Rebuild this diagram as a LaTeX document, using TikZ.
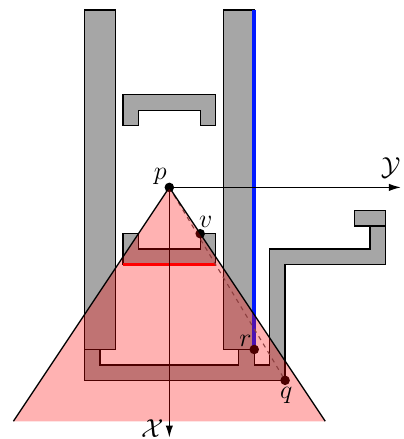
\documentclass[tikz,border=0pt]{standalone}
\usepackage{tikz}
\usetikzlibrary{arrows.meta,positioning}
\usepackage{amsmath}
\usepackage{xcolor}
\tikzset{
  wall/.style={draw=black, fill=black!35, line width=0.6pt},
  cone/.style={fill=red, fill opacity=0.3, draw=none},
  coneedge/.style={draw=black, line width=0.6pt},
  bluewall/.style={draw=blue!90!cyan, line width=1.7pt},
  redwall/.style={draw=red, line width=1.5pt},
  ray/.style={draw=black!65, line width=0.5pt, dash pattern=on 2pt off 2pt},
  axis/.style={-{Latex[length=5.5pt,width=3.4pt]}, line width=0.6pt},
  pt/.style={fill=black},
  lab/.style={inner sep=1pt, font=\large}
}
\begin{document}
\begin{tikzpicture}[x=0.25cm, y=0.25cm]
\useasboundingbox (-10.97,12.14) rectangle (15.15,-16.3);
\coordinate (p) at (0,0);
\coordinate (v) at (2,-3);
\coordinate (r) at (5.5,-10.5);
\coordinate (q) at (7.5,-12.5);
\coordinate (yend) at (15,0);
\coordinate (xend) at (0,-16.2);
% obstacles
\draw[wall] (-5.5,11.5) rectangle (-3.5,-10.5);
\draw[wall] (3.5,11.5) rectangle (5.5,-10.5);
\draw[wall] (-3,6) -- (3,6) -- (3,4) -- (2,4) -- (2,5) -- (-2,5) -- (-2,4) -- (-3,4) -- cycle;
\draw[wall] (-3,-3) -- (-2,-3) -- (-2,-4) -- (2,-4) -- (2,-3) -- (3,-3) -- (3,-5) -- (-3,-5) -- cycle;
\draw[wall] (-5.5,-10.5) -- (-5.5,-12.5) -- (7.5,-12.5) -- (7.5,-5) -- (14,-5) -- (14,-2.5)
  -- (13,-2.5) -- (13,-4) -- (6.5,-4) -- (6.5,-11.5) -- (5.5,-11.5) -- (5.5,-10.5)
  -- (4.5,-10.5) -- (4.5,-11.5) -- (-4.5,-11.5) -- (-4.5,-10.5) -- cycle;
\draw[wall] (12,-1.5) rectangle (14,-2.5);
\draw[bluewall] (5.5,11.5) -- (r);
\draw[redwall] (-3,-5) -- (3,-5);
% rays and axes
\draw[ray] (p) -- (q);
\draw[axis] (p) -- (yend);
\draw[axis] (p) -- (xend);
\foreach \n in {p,v,r,q} {\fill[pt] (\n) circle[radius=2.2pt];}
% visibility cone
\fill[cone] (p) -- (-10.1,-15.15) -- (10.1,-15.15) -- cycle;
\draw[coneedge] (-10.1,-15.15) -- (p) -- (10.1,-15.15);
% labels
\node[lab, anchor=south east] (plab) at (p) {$p$};
\node[lab, above=1.5pt of v, xshift=2.5pt] (vlab) {$v$};
\node[lab, anchor=south east] (rlab) at (r) {$r$};
\node[lab, below left=2pt and -4.5pt of q] (qlab) {$q$};
\node[lab, above left=3pt and -1pt of yend] (ylab) {$\mathcal{Y}$};
\node[lab, left=1.5pt of xend, yshift=4pt] (xlab) {$\mathcal{X}$};
\end{tikzpicture}
\end{document}
